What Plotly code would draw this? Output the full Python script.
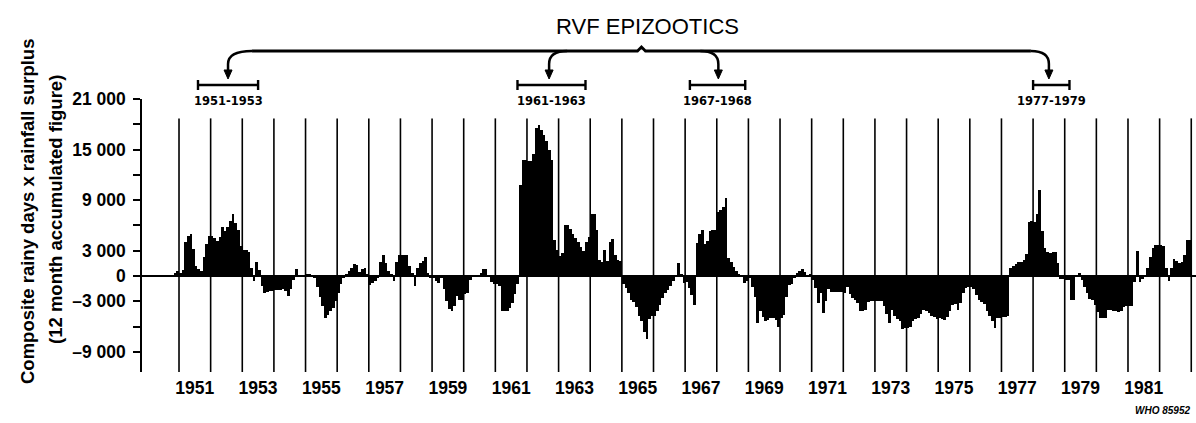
import plotly.graph_objects as go

# ---------------- data (12-month accumulated index, monthly) ----------------
monthly_1950s = [
    0, 0, 0, 0, 0, 0, 0, 0, 0, 0, 300, 600,                                  # 1950
    400, 700, 4000, 4800, 5000, 3200, 1200, 800, 600, 2200, 3800, 4700,      # 1951
    4700, 4500, 4200, 4600, 5800, 5300, 5800, 6500, 7300, 6300, 5500, 3600,  # 1952
    3100, 3100, 2800, 1000, -600, 1700, 700, -1200, -2000, -1900, -1800, -1800,  # 1953
    -1700, -1700, -1700, -1600, -1800, -2400, -1600, -500, 800, 0, 0, 0,     # 1954
    200, 200, 0, -300, -1300, -2500, -3600, -5000, -4600, -4200, -3800, -3000,  # 1955
    -2000, -1000, -300, 200, 600, 1000, 1400, 1300, 500, 800, 1000, 200,     # 1956
    -1100, -800, -600, -200, 1600, 2500, 1500, 600, 200, -600, 1700, 2500,   # 1957
    2500, 2500, 2500, 1200, 300, -1200, 900, 1500, 1800, 2300, 300, -300,    # 1958
    -300, -600, -800, -300, -1500, -3000, -3900, -4200, -3600, -2400, -2800, -2800,  # 1959
]
monthly_1960s = [
    -2100, -2000, -500, 0, 0, 0, 300, 800, 800, 0, -700, -1000,              # 1960
    -900, -1200, -4200, -4200, -4200, -3800, -3200, -2200, -900, 10800, 13800, 13800,  # 1961
    13700, 13700, 14500, 17500, 17900, 17300, 16700, 16000, 15000, 13800, 4300, 3100,  # 1962
    2400, 2700, 6000, 6000, 5600, 5000, 4500, 4000, 3400, 3000, 4000, 4600,  # 1963
    7400, 7300, 5500, 1900, 1700, 3100, 1800, 4000, 4400, 2500, 1900, 1800,  # 1964
    -900, -1400, -2000, -2900, -3100, -3700, -4700, -5400, -6600, -7500, -5100, -4800,  # 1965
    -4700, -4200, -3500, -2600, -2000, -1700, -1200, -600, -100, 1500, 200, -800,  # 1966
    -700, -1400, -2300, -3400, 3900, 5000, 5400, 3800, 4200, 5300, 5400, 5500,  # 1967
    7600, 7800, 8200, 9200, 2100, 1600, 1100, 600, 200, 0, -800, -600,       # 1968
    -300, -1300, -2500, -5600, -4200, -4900, -5400, -5200, -5000, -5000, -5200, -6000,  # 1969
]
monthly_1970s = [
    -5000, -4600, -2500, -1100, -900, -300, 300, 600, 800, 500, 0, 200,      # 1970
    -500, -1400, -3200, -2000, -4400, -3000, -1500, -1900, -1900, -1900, -1900, -1900,  # 1971
    -2000, -1300, -2200, -2600, -2900, -3200, -4200, -4200, -4000, -3100, -3000, -3000,  # 1972
    -3000, -3000, -3000, -3600, -4500, -5600, -4000, -4800, -5100, -5400, -6300, -6200,  # 1973
    -6200, -6000, -5400, -5100, -5000, -4500, -4100, -4200, -4400, -4700, -4900, -5100,  # 1974
    -5000, -5100, -5200, -4900, -4200, -3500, -3300, -4000, -3200, -2000, -1400, -1300,  # 1975
    -1300, -1500, -2300, -2900, -3100, -3300, -4200, -4800, -5300, -6200, -5000, -5000,  # 1976
    -4900, -4900, -4800, 900, 1200, 1400, 1600, 1700, 1900, 2600, 6400, 6500,  # 1977
    6400, 7400, 10200, 5300, 3300, 2800, 2700, 2900, 2900, 1500, -400, -400,  # 1978
    -500, -500, -2800, -2800, 0, 300, -500, -1300, -2000, -2700, -2900, -3500,  # 1979
]
monthly_1980s = [
    -4300, -5000, -5000, -5000, -4100, -4100, -4200, -4200, -4300, -4200, -3700, -3600,  # 1980
    -3600, -3600, -700, 3000, -700, -400, 100, 900, 2300, 3300, 3700, 3700,  # 1981
    3700, 3600, 900, -600, 900, 2000, 1800, 1500, 1600, 2500, 4300, 4300,    # 1982
]
start_year = 1950

year_lines = list(range(1951, 1984))
label_years = list(range(1951, 1983, 2))

y_tick_values = [-9000, -6000, -3000, 0, 3000, 6000, 9000, 12000, 15000, 18000, 21000]
y_tick_labels = ["–9 000", "", "–3 000", "0", "3 000", "", "9 000", "", "15 000", "", "21 000"]

epi_labels = ["1951-1953", "1961-1963", "1967-1968", "1977-1979"]
epi_bar_start = [1951.6, 1961.7, 1967.15, 1978.0]
epi_bar_end = [1953.5, 1963.85, 1968.9, 1979.15]
epi_arrow = [1952.55, 1962.7, 1968.05, 1978.5]
epi_side = [1, 1, -1, -1]

title_text = "RVF EPIZOOTICS"
ytitle_1 = "Composite rainy days x rainfall surplus"
ytitle_2 = "(12 month accumulated figure)"
credit = "WHO 85952"

# ---------------- geometry ----------------
W, H = 1196, 423
ML, MR, MT, MB = 142, 0, 99, 51
PW, PH = W - ML - MR, H - MT - MB
X0, X1 = 1949.83, 1983.15
Y0, Y1 = -11400, 21000
LINE_TOP = 18700

values = monthly_1950s + monthly_1960s + monthly_1970s + monthly_1980s
x_month = [start_year + (i + 0.5) / 12 for i in range(len(values))]


def year_px(y):
    return ML + (y - X0) / (X1 - X0) * PW


def P(px, py):
    return f"{(px - ML) / PW:.5f},{(H - MB - py) / PH:.5f}"


FONT = "Liberation Sans, Arial, Helvetica, sans-serif"

fig = go.Figure()
fig.add_trace(go.Bar(
    x=x_month, y=values, width=1 / 12,
    marker=dict(color="black", line=dict(width=0)),
    hoverinfo="x+y", showlegend=False,
))

shapes = []
for yr in year_lines:
    shapes.append(dict(type="line", xref="x", yref="y", x0=yr, x1=yr, y0=Y0, y1=LINE_TOP,
                       line=dict(color="black", width=1.6), layer="above"))

# brace across the top
LINE_Y, PEAK_Y, CURVE_Y, TIP_Y = 51, 47, 64, 79
apx = [year_px(a) for a in epi_arrow]
center = (apx[0] + 24 + apx[-1] - 18) / 2
main_path = (f"M {P(apx[0] + 24, LINE_Y)} L {P(center - 4, LINE_Y)} L {P(center, PEAK_Y)} "
             f"L {P(center + 4, LINE_Y)} L {P(apx[-1] - 18, LINE_Y)}")
shapes.append(dict(type="path", xref="paper", yref="paper", path=main_path,
                   line=dict(color="black", width=2.8)))
for ax, side in zip(apx, epi_side):
    reach = 24 if ax == apx[0] else 18
    path = (f"M {P(ax + side * reach, LINE_Y)} Q {P(ax, LINE_Y)} {P(ax, CURVE_Y)} "
            f"L {P(ax, TIP_Y - 6)}")
    shapes.append(dict(type="path", xref="paper", yref="paper", path=path,
                       line=dict(color="black", width=2.5)))
    tri = f"M {P(ax - 4, TIP_Y - 9)} L {P(ax + 4, TIP_Y - 9)} L {P(ax, TIP_Y)} Z"
    shapes.append(dict(type="path", xref="paper", yref="paper", path=tri,
                       fillcolor="black", line=dict(color="black", width=1)))

# period brackets
BAR_Y = 85
annotations = []
for lab, s, e in zip(epi_labels, epi_bar_start, epi_bar_end):
    xs, xe = year_px(s), year_px(e)
    shapes.append(dict(type="path", xref="paper", yref="paper",
                       path=f"M {P(xs, BAR_Y)} L {P(xe, BAR_Y)}",
                       line=dict(color="black", width=2.6)))
    for xx in (xs, xe):
        shapes.append(dict(type="path", xref="paper", yref="paper",
                           path=f"M {P(xx, BAR_Y - 5)} L {P(xx, BAR_Y + 5)}",
                           line=dict(color="black", width=2.4)))
    annotations.append(dict(text=lab, xref="paper", yref="paper",
                            x=((xs + xe) / 2 - ML) / PW, y=(H - MB - 101) / PH,
                            showarrow=False, xanchor="center", yanchor="middle",
                            font=dict(family="DejaVu Sans", size=11.5, color="black", weight="bold")))

annotations.append(dict(text=title_text, xref="paper", yref="paper",
                        x=(647 - ML) / PW, y=(H - MB - 26) / PH, showarrow=False,
                        xanchor="center", yanchor="middle",
                        font=dict(family=FONT, size=22, color="black")))
annotations.append(dict(text=ytitle_1, xref="paper", yref="paper", textangle=-90,
                        x=(27 - ML) / PW, y=(H - MB - 212) / PH, showarrow=False,
                        xanchor="center", yanchor="middle",
                        font=dict(family=FONT, size=18.5, color="black", weight="bold")))
annotations.append(dict(text=ytitle_2, xref="paper", yref="paper", textangle=-90,
                        x=(55 - ML) / PW, y=(H - MB - 210) / PH, showarrow=False,
                        xanchor="center", yanchor="middle",
                        font=dict(family=FONT, size=18.5, color="black", weight="bold")))
annotations.append(dict(text=f"<i>{credit}</i>", xref="paper", yref="paper",
                        x=(1192 - ML) / PW, y=(H - MB - 410) / PH, showarrow=False,
                        xanchor="right", yanchor="middle",
                        font=dict(family=FONT, size=10, color="black", weight="bold")))

fig.update_layout(
    width=W, height=H,
    margin=dict(l=ML, r=MR, t=MT, b=MB, pad=0),
    paper_bgcolor="white", plot_bgcolor="white",
    bargap=0, showlegend=False,
    shapes=shapes, annotations=annotations,
    xaxis=dict(range=[X0, X1], showgrid=False, zeroline=False, showline=False,
               ticks="", tickmode="array", ticklabelstandoff=3,
               tickvals=[y + 0.5 for y in label_years],
               ticktext=[str(y) for y in label_years],
               tickfont=dict(family=FONT, size=17.5, color="black", weight="bold")),
    yaxis=dict(range=[Y0, Y1], showgrid=False, showline=True, linecolor="black", linewidth=1.6,
               zeroline=True, zerolinecolor="black", zerolinewidth=2.4,
               ticks="outside", ticklen=7, tickwidth=1.6, tickcolor="black",
               ticklabelstandoff=4,
               tickmode="array", tickvals=y_tick_values, ticktext=y_tick_labels,
               tickfont=dict(family=FONT, size=17.5, color="black", weight="bold")),
)

fig.write_html("out.html", config={"displayModeBar": False},
               post_script="document.body.style.margin='0';document.body.style.overflow='hidden';")
